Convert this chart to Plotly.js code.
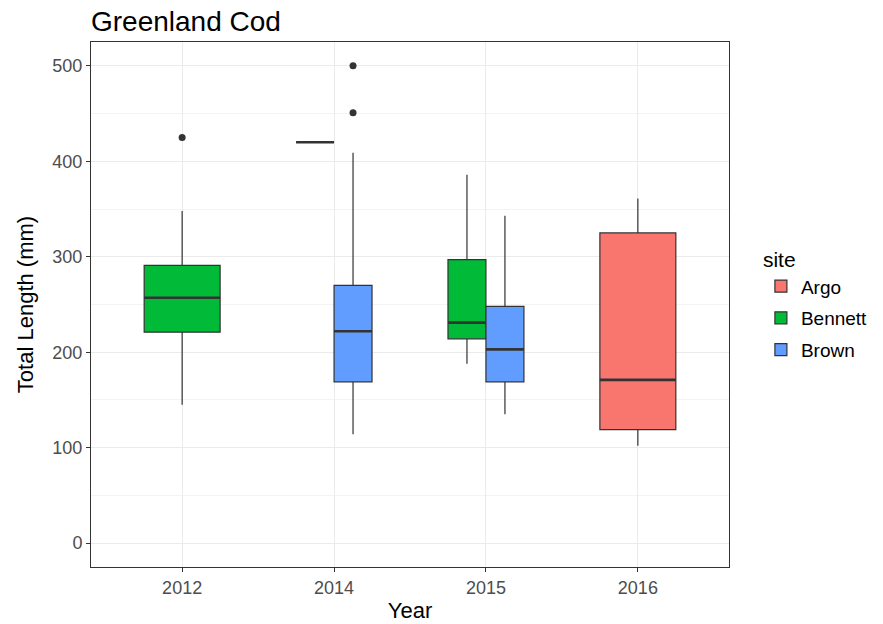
<!DOCTYPE html>
<html>
<head>
<meta charset="utf-8">
<script src="https://cdn.plot.ly/plotly-3.0.1.min.js"></script>
<style>html,body{margin:0;padding:0;background:#fff;}#chart{width:883px;height:624px;}</style>
</head>
<body>
<div id="chart"></div>
<script>
const years = ['2012', '2014', '2015', '2016'];
const sites = ['Argo', 'Bennett', 'Brown'];
const siteColors = ['#F8766D', '#00BA38', '#619CFF'];

const boxYear = ['2016', '2012', '2014', '2015', '2014', '2015'];
const boxSite = ['Argo', 'Bennett', 'Bennett', 'Bennett', 'Brown', 'Brown'];
const lowerWhisker = [102, 145, 420, 188, 114, 135];
const q1 = [119, 221, 420, 214, 169, 169];
const median = [171, 257, 420, 231, 222, 203];
const q3 = [325, 291, 420, 297, 270, 248];
const upperWhisker = [361, 348, 420, 386, 409, 343];

const outlierYear = ['2012', '2014', '2014'];
const outlierSite = ['Bennett', 'Brown', 'Brown'];
const outlierValue = [425, 451, 500];

const dodgeWidth = 0.5;
function placement(year, site) {
  const present = sites.filter(s => boxYear.some((y, i) => y === year && boxSite[i] === s));
  const n = present.length;
  const k = present.indexOf(site);
  const w = dodgeWidth / n;
  const center = years.indexOf(year) + 1;
  return {x: center - dodgeWidth / 2 + (k + 0.5) * w, w: w};
}

const traces = [];
const shown = {};
boxYear.forEach((yr, i) => {
  const s = boxSite[i];
  const c = siteColors[sites.indexOf(s)];
  const p = placement(yr, s);
  traces.push({
    type: 'box', name: s, legendgroup: s, showlegend: !shown[s],
    x: [p.x], q1: [q1[i]], median: [median[i]], q3: [q3[i]],
    lowerfence: [lowerWhisker[i]], upperfence: [upperWhisker[i]],
    width: p.w, whiskerwidth: 0, fillcolor: c,
    line: {color: '#333333', width: 1.2}, boxpoints: false, hoverinfo: 'skip'
  });
  shown[s] = true;
});
boxYear.forEach((yr, i) => {
  const p = placement(yr, boxSite[i]);
  traces.push({
    type: 'scatter', mode: 'lines', showlegend: false, hoverinfo: 'skip',
    x: [p.x - p.w / 2, p.x + p.w / 2], y: [median[i], median[i]],
    line: {color: '#333333', width: 2.6}
  });
});
traces.push({
  type: 'scatter', mode: 'markers', showlegend: false, hoverinfo: 'skip',
  x: outlierYear.map((y, i) => placement(y, outlierSite[i]).x), y: outlierValue,
  marker: {color: '#333333', size: 7}
});

const font = 'Liberation Sans, Arial, sans-serif';
const layout = {
  width: 883, height: 624,
  margin: {l: 91, r: 154, t: 42, b: 57, autoexpand: false},
  paper_bgcolor: '#ffffff', plot_bgcolor: '#ffffff',
  font: {family: font, color: '#000000'},
  title: {text: 'Greenland Cod', x: 0, xanchor: 'left', xref: 'paper', y: 1 - 21 / 624, yanchor: 'middle', yref: 'container',
          font: {size: 28, color: '#000000', family: font}},
  boxmode: 'overlay',
  showlegend: true,
  legend: {
    title: {text: 'site', font: {size: 21, color: '#000000'}},
    font: {size: 19, color: '#000000'},
    x: 1.05, xanchor: 'left', y: 0.5, yanchor: 'middle',
    traceorder: 'grouped', tracegroupgap: 4, bgcolor: 'rgba(0,0,0,0)'
  },
  xaxis: {
    range: [0.4, 4.6], tickmode: 'array', tickvals: years.map((y, i) => i + 1), ticktext: years,
    showgrid: true, gridcolor: '#EBEBEB', gridwidth: 1, zeroline: false,
    showline: true, mirror: true, linecolor: '#333333', linewidth: 1,
    ticks: 'outside', ticklen: 4, tickcolor: '#333333',
    tickfont: {size: 18, color: '#4D4D4D'},
    title: {text: 'Year', font: {size: 22, color: '#000000'}, standoff: 6}
  },
  yaxis: {
    range: [-25, 525], tickvals: [0, 100, 200, 300, 400, 500],
    showgrid: true, gridcolor: '#EBEBEB', gridwidth: 1, zeroline: false,
    minor: {dtick: 50, tick0: 0, showgrid: true, gridcolor: '#F4F4F4', gridwidth: 1, ticks: ''},
    showline: true, mirror: true, linecolor: '#333333', linewidth: 1,
    ticks: 'outside', ticklen: 4, tickcolor: '#333333',
    tickfont: {size: 18, color: '#4D4D4D'},
    title: {text: 'Total Length (mm)', font: {size: 22, color: '#000000'}, standoff: 12}
  }
};
Plotly.newPlot('chart', traces, layout, {displayModeBar: false, staticPlot: true});
</script>
</body>
</html>
